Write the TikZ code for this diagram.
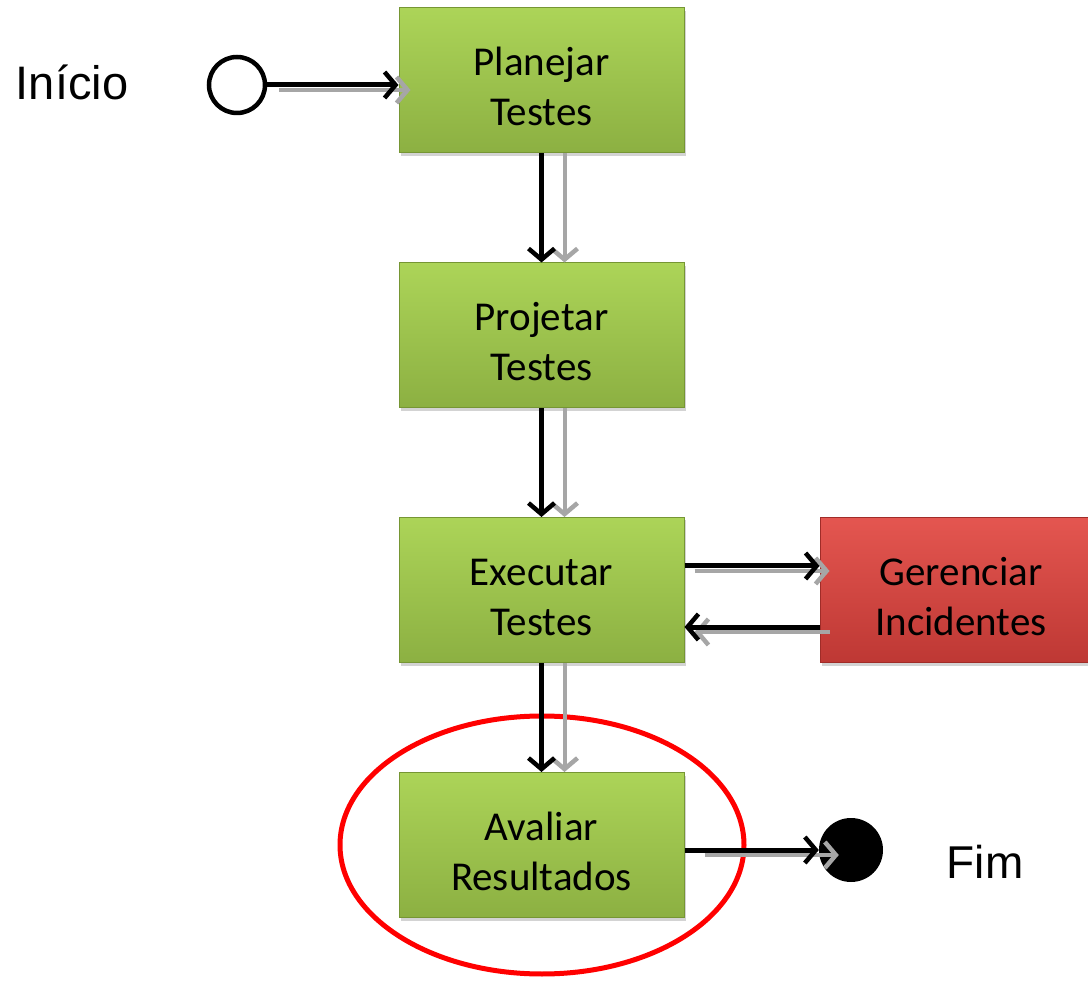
\documentclass[tikz,border=0pt]{standalone}
\usepackage{fontspec}
\setmainfont{Liberation Sans}
\newfontfamily\carlito{Carlito}
\definecolor{boxgreentop}{RGB}{172, 212, 88}
\definecolor{boxgreenbot}{RGB}{140, 176, 66}
\definecolor{boxgreenline}{RGB}{118, 150, 52}
\definecolor{boxredtop}{RGB}{228, 86, 80}
\definecolor{boxredbot}{RGB}{190, 56, 52}
\definecolor{boxredline}{RGB}{160, 44, 40}
\usetikzlibrary{shapes, arrows.meta, positioning, calc, shadows}

\begin{document}
\begin{tikzpicture}[x=1pt, y=-1pt,
    etapa/.style={rectangle, draw=boxgreenline, line width=1pt, top color=boxgreentop, bottom color=boxgreenbot,
      minimum width=285pt, minimum height=145pt, align=center, font=\carlito\fontsize{41}{50}\selectfont,
      text height=91pt,
      drop shadow={shadow xshift=2pt, shadow yshift=-3pt, opacity=0.35}},
    fluxo/.style={line width=5pt, -{Straight Barb[length=11pt, width=26pt, line width=4.5pt]}},
    sombra/.style={preaction={draw=gray!70, line width=4pt, transform canvas={shift={#1}}}}]
  \useasboundingbox (0,0) rectangle (1088,981);

  % etapas do processo
  \node[etapa] (planejar) at (541.5,80.5) {Planejar\\Testes};
  \node[etapa] (projetar) at (541.5,335.5) {Projetar\\Testes};
  \node[etapa] (executar) at (541.5,590) {Executar\\Testes};
  \node[etapa] (avaliar) at (541.5,845) {Avaliar\\Resultados};
  \node[etapa, draw=boxredline, top color=boxredtop, bottom color=boxredbot, minimum width=282pt] (gerenciar) at (961,590) {Gerenciar\\Incidentes};

  % inicio e fim
  \node[circle, draw, line width=4.5pt, fill=white, minimum size=56pt, inner sep=0pt] (inicio) at (237,85) {};
  \node[circle, fill=black, minimum size=64pt, inner sep=0pt] (fim) at (851,850) {};
  \node[font=\fontsize{47}{56}\selectfont] (lblinicio) at (72,82) {Início};
  \node[font=\fontsize{46}{55}\selectfont] (lblfim) at (985,862) {Fim};

  % destaque
  \node[ellipse, draw=red, line width=5pt, minimum width=404pt, minimum height=258pt] (destaque) at (542,845) {};

  % conexoes
  \draw[fluxo, sombra={(12pt,-5pt)}] (inicio) -- (inicio -| planejar.west);
  \draw[fluxo, sombra={(23pt,0pt)}] (planejar) -- (projetar);
  \draw[fluxo, sombra={(23pt,0pt)}] (projetar) -- (executar);
  \draw[fluxo, sombra={(23pt,0pt)}] (executar) -- (avaliar);
  \draw[fluxo, sombra={(10pt,-5pt)}] ([yshift=24pt]executar.east) -- ([yshift=24pt]gerenciar.west);
  \draw[fluxo, sombra={(10pt,-5pt)}] ([yshift=-37pt]gerenciar.west) -- ([yshift=-37pt]executar.east);
  \draw[fluxo, sombra={(20pt,-5pt)}] (avaliar.east |- fim) -- (fim);
\end{tikzpicture}
\end{document}
